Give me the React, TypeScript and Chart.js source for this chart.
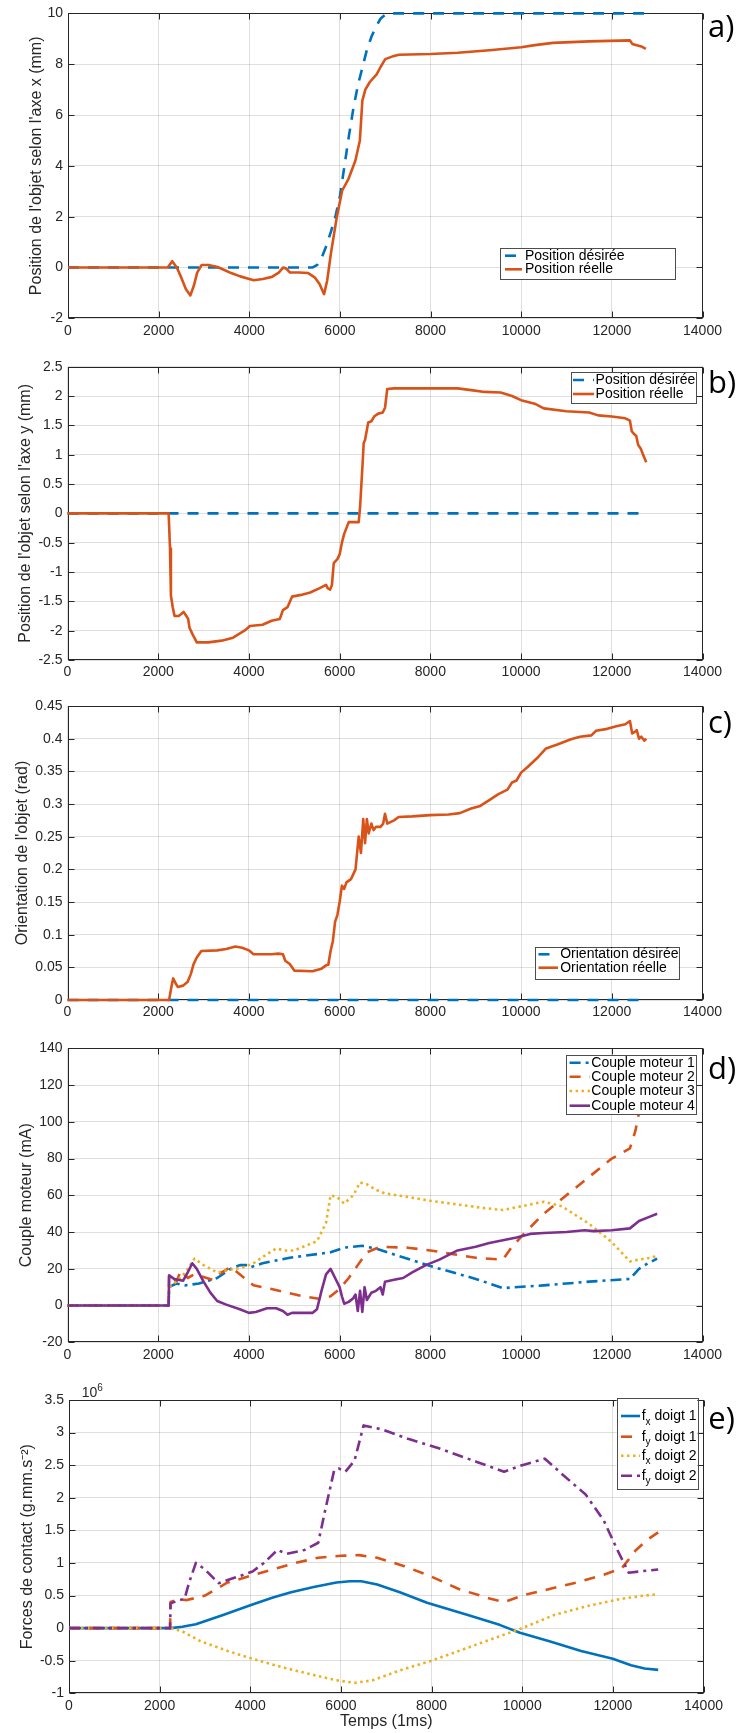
import React, { useEffect, useRef } from 'react';
import { Chart, registerables } from 'chart.js';
Chart.register(...registerables);

const FONT = "'Liberation Sans', Arial, Helvetica, sans-serif";
const TAG_FONT = "'Open Sans', 'DejaVu Sans', sans-serif";
const INK = '#262626';
const BLUE = '#0072BD';
const ORANGE = '#D95319';
const YELLOW = '#EDB120';
const PURPLE = '#7E2F8E';
const DASH = [11, 9];
const DASHDOT = [11, 5, 3, 5];
const DOT = [2.5, 3.5];
const SOLID: number[] = [];

type Pt = [number, number];

// ---- time axis ----
const timeMin = 0;
const timeMax = 14000;
const timeStep = 2000;

// ---- a) position x (mm) ----
const posXDesired: Pt[] = [[0, 0], [5400, 0], [5500, 0.1], [5600, 0.4], [5700, 0.85], [5800, 1.4], [5900, 2.0], [6000, 2.8], [6100, 4.0], [6200, 5.2], [6300, 6.3], [6400, 7.2], [6500, 7.9], [6600, 8.6], [6700, 9.1], [6800, 9.5], [6900, 9.8], [7000, 9.95], [7100, 10], [12750, 10]];
const posXReal: Pt[] = [[0, 0], [2200, 0], [2300, 0.25], [2400, 0], [2500, -0.4], [2600, -0.85], [2700, -1.1], [2780, -0.7], [2850, -0.2], [2950, 0.1], [3100, 0.1], [3300, 0.02], [3450, -0.1], [3600, -0.22], [3800, -0.35], [4000, -0.45], [4100, -0.5], [4300, -0.45], [4500, -0.37], [4650, -0.2], [4750, 0], [4820, -0.05], [4900, -0.2], [5100, -0.2], [5300, -0.22], [5450, -0.4], [5550, -0.65], [5650, -1.05], [5720, -0.5], [5800, 0.54], [5930, 1.98], [6050, 3.03], [6190, 3.49], [6340, 4.2], [6440, 5.0], [6495, 6.57], [6560, 7.0], [6660, 7.3], [6810, 7.6], [6900, 7.9], [7000, 8.2], [7150, 8.3], [7300, 8.37], [8000, 8.4], [8600, 8.45], [9300, 8.55], [10000, 8.67], [10300, 8.75], [10700, 8.84], [11500, 8.9], [12400, 8.94], [12450, 8.8], [12550, 8.75], [12650, 8.7], [12750, 8.6]];

// ---- b) position y (mm) ----
const posYDesired: Pt[] = [[0, 0], [12750, 0]];
const posYReal: Pt[] = [[0, 0], [2230, 0], [2260, -0.6], [2280, -1.4], [2320, -1.6], [2360, -1.75], [2450, -1.75], [2500, -1.72], [2560, -1.68], [2620, -1.75], [2660, -1.8], [2690, -1.95], [2750, -2.05], [2850, -2.2], [3100, -2.2], [3400, -2.17], [3650, -2.12], [3900, -2.0], [3980, -1.95], [4020, -1.92], [4300, -1.9], [4500, -1.83], [4680, -1.8], [4750, -1.65], [4850, -1.6], [4950, -1.42], [5150, -1.39], [5350, -1.35], [5550, -1.28], [5700, -1.22], [5740, -1.28], [5790, -1.3], [5830, -1.22], [5870, -0.85], [5950, -0.78], [6000, -0.7], [6050, -0.5], [6100, -0.35], [6200, -0.15], [6420, -0.15], [6450, 0.1], [6480, 0.5], [6510, 0.9], [6530, 1.2], [6560, 1.25], [6630, 1.55], [6700, 1.57], [6760, 1.65], [6850, 1.7], [6950, 1.72], [7000, 1.8], [7050, 2.12], [7200, 2.13], [8000, 2.13], [8600, 2.13], [8900, 2.1], [9200, 2.07], [9550, 2.06], [9800, 2.0], [10000, 1.93], [10300, 1.87], [10500, 1.79], [11000, 1.74], [11500, 1.72], [11700, 1.67], [12000, 1.65], [12300, 1.62], [12400, 1.58], [12440, 1.4], [12480, 1.36], [12540, 1.32], [12580, 1.17], [12640, 1.1], [12700, 0.98], [12760, 0.87]];

// ---- c) orientation (rad) ----
const orientDesired: Pt[] = [[0, 0], [12750, 0]];
const orientReal: Pt[] = [[0, 0], [2240, 0], [2290, 0.02], [2330, 0.033], [2380, 0.026], [2430, 0.02], [2550, 0.022], [2650, 0.028], [2720, 0.04], [2780, 0.055], [2850, 0.065], [2950, 0.075], [3300, 0.076], [3500, 0.078], [3700, 0.082], [3850, 0.08], [4000, 0.076], [4100, 0.07], [4500, 0.07], [4650, 0.071], [4750, 0.07], [4800, 0.06], [4900, 0.055], [5000, 0.045], [5400, 0.044], [5600, 0.048], [5700, 0.053], [5750, 0.054], [5800, 0.075], [5850, 0.09], [5900, 0.12], [5950, 0.13], [6000, 0.15], [6050, 0.175], [6100, 0.17], [6150, 0.18], [6250, 0.185], [6350, 0.2], [6420, 0.25], [6470, 0.225], [6520, 0.277], [6560, 0.24], [6600, 0.277], [6640, 0.255], [6700, 0.27], [6750, 0.26], [6800, 0.265], [6900, 0.265], [6960, 0.27], [7000, 0.285], [7050, 0.27], [7200, 0.275], [7300, 0.28], [7600, 0.281], [8000, 0.283], [8400, 0.284], [8650, 0.286], [8900, 0.293], [9100, 0.297], [9300, 0.306], [9500, 0.315], [9700, 0.322], [9800, 0.333], [9900, 0.336], [10000, 0.348], [10150, 0.357], [10350, 0.37], [10550, 0.385], [10800, 0.391], [11100, 0.399], [11300, 0.403], [11550, 0.405], [11650, 0.412], [11900, 0.415], [12100, 0.419], [12300, 0.422], [12400, 0.427], [12450, 0.408], [12500, 0.41], [12550, 0.413], [12600, 0.4], [12650, 0.403], [12720, 0.397], [12760, 0.4]];

// ---- d) motor torque (mA) ----
const motor1: Pt[] = [[0, 0], [2230, 0], [2240, 10], [2400, 12], [2600, 11], [2900, 12], [3300, 15], [3600, 20], [3800, 22], [4000, 22], [4050, 21], [4300, 23], [4900, 26], [5800, 29], [6100, 31.5], [6500, 32.5], [6800, 31], [8000, 21.5], [9000, 14.5], [9600, 9.5], [10500, 11], [11500, 13], [12400, 14.5], [12600, 20], [12800, 23], [13000, 25.5]];
const motor2: Pt[] = [[0, 0], [2230, 0], [2240, 17], [2400, 13], [2500, 19], [2650, 15], [2800, 17], [3000, 15.5], [3200, 14], [3400, 18], [3600, 21], [3700, 19], [3900, 15], [4100, 11], [4500, 9], [4850, 7], [5200, 5], [5600, 3.5], [5800, 5], [6000, 9], [6200, 15], [6400, 22], [6600, 29], [6900, 32], [7500, 31.5], [8000, 30], [8500, 28], [9000, 26], [9600, 25], [9800, 32], [10100, 40], [10500, 50], [11000, 60], [11500, 70], [12000, 80], [12400, 85.5], [12520, 95], [12600, 105], [12750, 115], [13000, 125]];
const motor3: Pt[] = [[0, 0], [2230, 0], [2240, 10], [2400, 13], [2600, 18], [2800, 25.5], [3000, 22], [3300, 18], [3500, 19], [3700, 20], [3900, 21], [4100, 23], [4400, 28], [4600, 31], [4800, 30], [5000, 30], [5300, 33], [5500, 35], [5700, 45], [5800, 60], [5950, 59], [6100, 55.5], [6300, 60], [6450, 67], [6600, 66], [6800, 63], [7000, 61], [7400, 59.5], [8000, 57], [8600, 55], [9200, 53], [9600, 52], [10000, 54], [10500, 56.5], [10900, 54], [11500, 44.5], [12000, 34.5], [12400, 24], [12600, 25], [12850, 26], [13000, 27]];
const motor4: Pt[] = [[0, 0], [2230, 0], [2240, 16.5], [2350, 14.5], [2550, 13.5], [2650, 18], [2750, 23], [2850, 20], [3000, 13], [3150, 7], [3300, 2.5], [3500, 0.5], [3800, -2], [4000, -4], [4150, -3.5], [4400, -1.5], [4600, -1.5], [4750, -3], [4850, -5], [4950, -4], [5400, -4], [5500, -2], [5600, 8], [5700, 17], [5800, 20], [5900, 15], [6000, 10], [6050, 5], [6100, 1], [6200, 2], [6300, 4], [6350, 6], [6400, -3], [6450, 8], [6500, -3.5], [6550, 10], [6600, 3], [6700, 7], [6800, 8], [6900, 10], [6950, 6], [7000, 13], [7200, 14], [7400, 15], [7600, 18], [7900, 22], [8200, 25], [8600, 30], [9000, 32], [9300, 34], [9600, 35.5], [9900, 37], [10200, 39], [10500, 39.5], [11000, 40], [11400, 41], [11600, 40.5], [12000, 41], [12400, 42], [12600, 46], [12800, 48], [13000, 50]];

// ---- e) contact forces (x 10^6 g.mm.s^-2) ----
const fxFinger1: Pt[] = [[0, 0], [2250, 0], [2500, 0.02], [2800, 0.06], [3400, 0.2], [4000, 0.35], [4500, 0.47], [4900, 0.55], [5400, 0.63], [5900, 0.7], [6200, 0.72], [6450, 0.72], [6800, 0.67], [7300, 0.55], [7900, 0.39], [8800, 0.2], [9500, 0.05], [9950, -0.07], [10600, -0.2], [11300, -0.35], [12000, -0.47], [12400, -0.57], [12700, -0.62], [13000, -0.64]];
const fyFinger1: Pt[] = [[0, 0], [2230, 0], [2240, 0.4], [2400, 0.44], [2600, 0.43], [3000, 0.5], [3500, 0.7], [4000, 0.8], [4500, 0.9], [5000, 1.0], [5500, 1.08], [6000, 1.11], [6400, 1.12], [6800, 1.08], [7400, 0.95], [8000, 0.79], [8600, 0.6], [9300, 0.45], [9600, 0.4], [10000, 0.5], [10600, 0.6], [11200, 0.7], [11800, 0.82], [12200, 0.92], [12500, 1.19], [12750, 1.35], [13000, 1.47]];
const fxFinger2: Pt[] = [[0, 0], [2250, 0], [2500, -0.05], [2900, -0.2], [3500, -0.35], [4000, -0.46], [4700, -0.6], [5400, -0.72], [5900, -0.8], [6300, -0.84], [6700, -0.8], [7300, -0.65], [8000, -0.5], [8800, -0.3], [9600, -0.1], [10000, 0], [10700, 0.2], [11500, 0.35], [12200, 0.45], [12700, 0.5], [13000, 0.52]];
const fyFinger2: Pt[] = [[0, 0], [2230, 0], [2240, 0.38], [2400, 0.42], [2550, 0.45], [2650, 0.7], [2800, 1.0], [3000, 0.9], [3300, 0.69], [3600, 0.76], [3900, 0.83], [4050, 0.87], [4300, 1.0], [4600, 1.2], [4800, 1.14], [5200, 1.2], [5500, 1.31], [5650, 1.8], [5850, 2.42], [5950, 2.45], [6100, 2.4], [6300, 2.57], [6500, 3.11], [6900, 3.05], [7500, 2.9], [8200, 2.75], [9000, 2.55], [9600, 2.4], [10000, 2.5], [10500, 2.6], [10900, 2.35], [11400, 2.05], [11800, 1.65], [12100, 1.2], [12350, 0.85], [12600, 0.87], [13000, 0.9]];

type Series = { label: string; pts: Pt[]; color: string; dash: number[] };
type Panel = {
  top: number; height: number;
  plotTop: number; plotBottom: number; plotLeft: number; plotRight: number;
  yMin: number; yMax: number; yStep: number;
  yTitle: string; yTitleMid: number;
  xTitle?: string;
  series: Series[];
  legend: { box: [number, number, number, number]; rows: number[]; sx: [number, number]; tx: number };
  tag: { text: string; x: number; y: number };
  exponent?: { base: string; exp: string; x: number; y: number };
};

const panels: Panel[] = [
  {
    top: 0, height: 340, plotTop: 13.3, plotBottom: 318.3, plotLeft: 68, plotRight: 702.5,
    yMin: -2, yMax: 10, yStep: 2,
    yTitle: "Position de l'objet selon l'axe x (mm)", yTitleMid: 36.5,
    series: [
      { label: 'Position désirée', pts: posXDesired, color: BLUE, dash: DASH },
      { label: 'Position réelle', pts: posXReal, color: ORANGE, dash: SOLID },
    ],
    legend: { box: [500.2, 247.7, 674.8, 279], rows: [255.7, 269.3], sx: [505, 522], tx: 525 },
    tag: { text: 'a)', x: 708, y: 37.3 },
  },
  {
    top: 340, height: 340, plotTop: 26.7, plotBottom: 320, plotLeft: 67.5, plotRight: 702.5,
    yMin: -2.5, yMax: 2.5, yStep: 0.5,
    yTitle: "Position de l'objet selon l'axe y (mm)", yTitleMid: 25.4,
    series: [
      { label: 'Position désirée', pts: posYDesired, color: BLUE, dash: DASH },
      { label: 'Position réelle', pts: posYReal, color: ORANGE, dash: SOLID },
    ],
    legend: { box: [571, 32.3, 696, 63.3], rows: [40, 54], sx: [573, 594], tx: 595.6 },
    tag: { text: 'b)', x: 708, y: 53.3 },
  },
  {
    top: 680, height: 340, plotTop: 26, plotBottom: 320, plotLeft: 67.5, plotRight: 702.5,
    yMin: 0, yMax: 0.45, yStep: 0.05,
    yTitle: "Orientation de l'objet (rad)", yTitleMid: 22.7,
    series: [
      { label: 'Orientation désirée', pts: orientDesired, color: BLUE, dash: DASH },
      { label: 'Orientation réelle', pts: orientReal, color: ORANGE, dash: SOLID },
    ],
    legend: { box: [534.7, 266.7, 678.2, 298.3], rows: [274.3, 287.7], sx: [538.5, 558], tx: 560.2 },
    tag: { text: 'c)', x: 708, y: 53.3 },
  },
  {
    top: 1020, height: 340, plotTop: 28.3, plotBottom: 322.3, plotLeft: 67.5, plotRight: 702.5,
    yMin: -20, yMax: 140, yStep: 20,
    yTitle: 'Couple moteur (mA)', yTitleMid: 26.7,
    series: [
      { label: 'Couple moteur 1', pts: motor1, color: BLUE, dash: DASHDOT },
      { label: 'Couple moteur 2', pts: motor2, color: ORANGE, dash: DASH },
      { label: 'Couple moteur 3', pts: motor3, color: YELLOW, dash: DOT },
      { label: 'Couple moteur 4', pts: motor4, color: PURPLE, dash: SOLID },
    ],
    legend: { box: [566.3, 35, 696.1, 94.3], rows: [42.7, 56.7, 71, 85.7], sx: [569.6, 590], tx: 591.3 },
    tag: { text: 'd)', x: 708, y: 59.3 },
  },
  {
    top: 1360, height: 373, plotTop: 40, plotBottom: 333.3, plotLeft: 69, plotRight: 703.5,
    yMin: -1, yMax: 3.5, yStep: 0.5,
    yTitle: 'Forces de contact (g.mm.s⁻²)', yTitleMid: 27.7,
    xTitle: 'Temps (1ms)',
    series: [
      { label: 'f_x doigt 1', pts: fxFinger1, color: BLUE, dash: SOLID },
      { label: 'f_y doigt 1', pts: fyFinger1, color: ORANGE, dash: DASH },
      { label: 'f_x doigt 2', pts: fxFinger2, color: YELLOW, dash: DOT },
      { label: 'f_y doigt 2', pts: fyFinger2, color: PURPLE, dash: DASHDOT },
    ],
    legend: { box: [616.7, 38, 697.3, 129], rows: [56, 76.7, 95.7, 115.7], sx: [621, 640], tx: 641.7 },
    tag: { text: 'e)', x: 708.3, y: 69.3 },
    exponent: { base: '10', exp: '6', x: 81.7, y: 36.7 },
  },
];

const LINE_W = 2.6;

function fmt(v: number): string {
  return String(Math.round(v * 1000) / 1000);
}

function makeOverlay(p: Panel) {
  return {
    id: 'overlay',
    beforeDatasetsDraw(chart: any) {
      const { ctx, chartArea: ca, scales } = chart;
      ctx.save();
      // axes box + inward ticks (MATLAB draws them beneath the data)
      const L = Math.round(ca.left) + 0.5, R = Math.round(ca.right) - 0.5;
      const T = Math.round(ca.top) + 0.5, B = Math.round(ca.bottom) - 0.5;
      ctx.strokeStyle = INK;
      ctx.lineWidth = 1;
      ctx.setLineDash([]);
      ctx.beginPath();
      const tl = 6;
      scales.x.ticks.forEach((t: any) => {
        const px = Math.round(scales.x.getPixelForValue(t.value)) + 0.5;
        ctx.moveTo(px, B); ctx.lineTo(px, B - tl);
        ctx.moveTo(px, T); ctx.lineTo(px, T + tl);
      });
      scales.y.ticks.forEach((t: any) => {
        const py = Math.round(scales.y.getPixelForValue(t.value)) + 0.5;
        ctx.moveTo(L, py); ctx.lineTo(L + tl, py);
        ctx.moveTo(R, py); ctx.lineTo(R - tl, py);
      });
      ctx.stroke();
      ctx.strokeRect(L, T, R - L, B - T);
      ctx.restore();
    },
    afterDatasetsDraw(chart: any) {
      const { ctx } = chart;
      ctx.save();
      // legend
      const lg = p.legend;
      const [x0, y0, x1, y1] = lg.box;
      ctx.fillStyle = '#ffffff';
      ctx.fillRect(x0, y0, x1 - x0, y1 - y0);
      ctx.strokeStyle = '#4d4d4d';
      ctx.lineWidth = 1;
      ctx.strokeRect(Math.round(x0) + 0.5, Math.round(y0) + 0.5, Math.round(x1 - x0), Math.round(y1 - y0));
      p.series.forEach((s, i) => {
        const ry = lg.rows[i];
        ctx.strokeStyle = s.color;
        ctx.lineWidth = LINE_W;
        ctx.setLineDash(s.dash);
        ctx.lineDashOffset = 0;
        ctx.beginPath();
        ctx.moveTo(lg.sx[0], ry);
        ctx.lineTo(lg.sx[1], ry);
        ctx.stroke();
        ctx.setLineDash([]);
        ctx.fillStyle = '#000000';
        ctx.textBaseline = 'middle';
        ctx.textAlign = 'left';
        const m = s.label.match(/^(\w)_(\w)(.*)$/);
        if (m) {
          ctx.font = `14px ${FONT}`;
          ctx.fillText(m[1], lg.tx, ry);
          let x = lg.tx + ctx.measureText(m[1]).width;
          ctx.font = `10px ${FONT}`;
          ctx.fillText(m[2], x, ry + 6);
          x += ctx.measureText(m[2]).width;
          ctx.font = `14px ${FONT}`;
          ctx.fillText(m[3], x, ry);
        } else {
          ctx.font = `14px ${FONT}`;
          ctx.fillText(s.label, lg.tx, ry);
        }
      });

      // exponent label
      if (p.exponent) {
        const e = p.exponent;
        ctx.fillStyle = INK;
        ctx.textBaseline = 'alphabetic';
        ctx.font = `14px ${FONT}`;
        ctx.fillText(e.base, e.x, e.y);
        const w = ctx.measureText(e.base).width;
        ctx.font = `10px ${FONT}`;
        ctx.fillText(e.exp, e.x + w, e.y - 5.5);
      }

      // panel tag
      ctx.fillStyle = '#000000';
      ctx.textBaseline = 'alphabetic';
      ctx.textAlign = 'left';
      ctx.font = `31px ${TAG_FONT}`;
      ctx.fillText(p.tag.text, p.tag.x, p.tag.y);
      ctx.restore();
    },
  };
}

function buildChart(canvas: HTMLCanvasElement, p: Panel) {
  const n = p.series.length;
  const gridColor = 'rgba(38,38,38,0.15)';
  const xHeight = p.height - p.plotBottom;
  return new Chart(canvas, {
    type: 'line',
    data: {
      datasets: p.series.map((s, i) => ({
        label: s.label,
        data: s.pts.map(([x, y]) => ({ x, y })),
        borderColor: s.color,
        backgroundColor: s.color,
        borderWidth: LINE_W,
        borderDash: s.dash,
        borderCapStyle: 'butt',
        borderJoinStyle: 'round',
        pointRadius: 0,
        pointHoverRadius: 0,
        fill: false,
        tension: 0,
        clip: 4,
        order: n - 1 - i,
      })),
    },
    options: {
      responsive: false,
      animation: false,
      devicePixelRatio: 1,
      events: [],
      layout: { padding: { left: 0, right: 740 - p.plotRight, top: p.plotTop, bottom: 0 } },
      plugins: { legend: { display: false }, tooltip: { enabled: false } },
      scales: {
        x: {
          type: 'linear',
          min: timeMin,
          max: timeMax,
          ticks: {
            stepSize: timeStep,
            autoSkip: false,
            maxRotation: 0,
            color: INK,
            font: { family: FONT, size: 14 },
            padding: 4,
            callback: (v: any) => fmt(Number(v)),
          },
          grid: { color: gridColor, drawTicks: false, lineWidth: 1 },
          border: { display: false },
          title: p.xTitle
            ? { display: true, text: p.xTitle, color: INK, font: { family: FONT, size: 16 }, padding: { top: 0, bottom: 1.7 } }
            : { display: false },
          afterFit: (s: any) => { s.height = xHeight; },
        },
        y: {
          type: 'linear',
          min: p.yMin,
          max: p.yMax,
          ticks: {
            stepSize: p.yStep,
            autoSkip: false,
            color: INK,
            font: { family: FONT, size: 14 },
            padding: 5,
            callback: (v: any) => fmt(Number(v)),
          },
          grid: { color: gridColor, drawTicks: false, lineWidth: 1 },
          border: { display: false },
          title: {
            display: true,
            text: p.yTitle,
            color: INK,
            font: { family: FONT, size: 16 },
            padding: { top: p.yTitleMid - 9.6, bottom: 0 },
          },
          afterFit: (s: any) => { s.width = p.plotLeft; },
        },
      },
    } as any,
    plugins: [makeOverlay(p)],
  });
}

export default function App() {
  const refs = useRef<(HTMLCanvasElement | null)[]>([]);
  useEffect(() => {
    const charts = panels.map((p, i) => buildChart(refs.current[i] as HTMLCanvasElement, p));
    return () => charts.forEach((c) => c.destroy());
  }, []);
  return (
    <div style={{ position: 'absolute', left: 0, top: 0, width: 740, height: 1733, background: '#ffffff', overflow: 'hidden' }}>
      {panels.map((p, i) => (
        <canvas
          key={i}
          ref={(el) => { refs.current[i] = el; }}
          width={740}
          height={p.height}
          style={{ position: 'absolute', left: 0, top: p.top, width: 740, height: p.height, display: 'block' }}
        />
      ))}
    </div>
  );
}
